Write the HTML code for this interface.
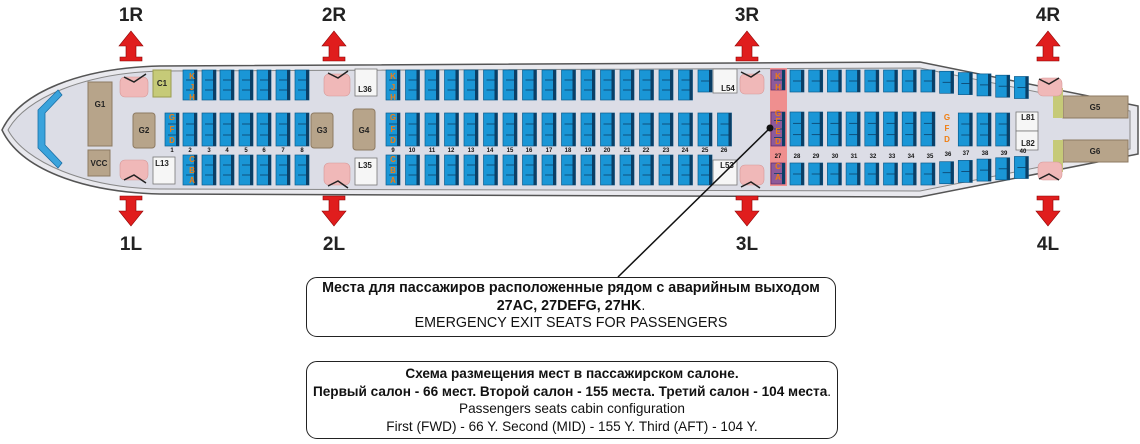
<!DOCTYPE html>
<html><head><meta charset="utf-8"><style>
html,body{margin:0;padding:0;background:#fff;}
svg{display:block}
text{font-family:"Liberation Sans",sans-serif;}
.lbl{font-size:19px;font-weight:bold;fill:#222;text-anchor:middle}
.num{font-size:6px;font-weight:bold;fill:#111;text-anchor:middle}
.g{font-size:8px;font-weight:bold;fill:#222;text-anchor:middle}
.let{font-size:8px;font-weight:bold;fill:#f07d10;text-anchor:middle}
.bx{font-family:"Liberation Sans",sans-serif;color:#111;text-align:center;position:absolute;border:1.5px solid #222;border-radius:11px;box-sizing:border-box;line-height:17.5px;white-space:nowrap}
</style></head><body>
<div style="position:relative;width:1140px;height:444px;overflow:hidden">
<svg id="s" width="1140" height="444" viewBox="0 0 1140 444" xmlns="http://www.w3.org/2000/svg">
<defs>
<g id="arU"><path d="M0,0 L12,15 L5,15 L5,26 L11,26 L11,30 L-11,30 L-11,26 L-5,26 L-5,15 L-12,15 Z" fill="#e01d1d" stroke="#8a0000" stroke-width="0.6"/></g>
</defs>
<path d="M2,130 C20,92 80,68 160,66 L920,62 L1138,106 L1138,154 L920,197 L160,194 C80,192 20,168 2,130 Z" fill="#e9e9ee" stroke="#555" stroke-width="1.5"/>
<path d="M8,130 C25,98 85,73 160,71 L920,68 L1130,111 L1130,149 L920,191 L160,189 C85,188 25,162 8,130 Z" fill="#dcdde6" stroke="#888" stroke-width="1"/>
<path d="M58,90 L38,110 L38,148 L58,168 L62,163 L45,145 L45,113 L62,95 Z" fill="#3aa3dc" stroke="#1a6fa6" stroke-width="0.8"/>
<rect x="88" y="82" width="24" height="64" fill="#b7a48a" stroke="#8d7a62"/><text class="g" x="100" y="107">G1</text>
<rect x="88" y="150" width="22" height="26" fill="#b7a48a" stroke="#8d7a62"/><text class="g" x="99" y="166">VCC</text>
<rect x="133" y="113" width="22" height="35" rx="3" fill="#b7a48a" stroke="#8d7a62"/><text class="g" x="144" y="133">G2</text>
<rect x="311" y="113" width="22" height="35" rx="3" fill="#b7a48a" stroke="#8d7a62"/><text class="g" x="322" y="133">G3</text>
<rect x="353" y="109" width="22" height="41" rx="3" fill="#b7a48a" stroke="#8d7a62"/><text class="g" x="364" y="133">G4</text>
<rect x="153" y="70" width="18" height="27" fill="#c6ca78" stroke="#9a9c50"/><text class="g" x="162" y="86">C1</text>
<rect x="1063" y="96" width="65" height="22" fill="#b7a48a" stroke="#8d7a62"/><text class="g" x="1095" y="110">G5</text>
<rect x="1063" y="140" width="65" height="22" fill="#b7a48a" stroke="#8d7a62"/><text class="g" x="1095" y="154">G6</text>
<rect x="1053" y="88" width="10" height="30" fill="#c6ca78"/><rect x="1053" y="140" width="10" height="32" fill="#c6ca78"/>
<g fill="#f6f6f6" stroke="#777" stroke-width="0.8">
<rect x="153" y="157" width="22" height="27"/><rect x="355" y="69" width="22" height="27"/><rect x="355" y="158" width="22" height="27"/>
<rect x="713" y="69" width="24" height="24"/><rect x="713" y="160" width="24" height="25"/>
<rect x="1016" y="112" width="22" height="19"/><rect x="1016" y="131" width="22" height="19"/>
</g>
<text class="g" x="162" y="166">L13</text><text class="g" x="365" y="92">L36</text><text class="g" x="365" y="168">L35</text>
<text class="g" x="728" y="91">L54</text><text class="g" x="727" y="168">L53</text><text class="g" x="1028" y="120">L81</text><text class="g" x="1028" y="146">L82</text>
<g fill="#f0b8b8" stroke="#d69898" stroke-width="0.6">
<rect x="120" y="77" width="28" height="20" rx="5"/><rect x="120" y="160" width="28" height="20" rx="5"/>
<rect x="324" y="74" width="26" height="22" rx="5"/><rect x="324" y="163" width="26" height="22" rx="5"/>
<rect x="740" y="74" width="24" height="20" rx="5"/><rect x="740" y="165" width="24" height="20" rx="5"/>
<rect x="1038" y="78" width="24" height="18" rx="5"/><rect x="1038" y="162" width="24" height="18" rx="5"/>
</g>
<g stroke="#222" stroke-width="1.5" fill="none">
<path d="M124,77 L134,82 L146,74"/><path d="M124,180 L134,175 L146,183"/>
<path d="M328,73 L338,78 L348,71"/><path d="M328,186 L338,181 L348,188"/>
<path d="M741,72 L751,77 L760,71"/><path d="M741,187 L751,182 L760,188"/>
<path d="M1039,79 L1049,84 L1059,78"/><path d="M1039,179 L1049,174 L1059,180"/>
</g>
<rect x="770" y="68" width="17" height="118" fill="#ef8f8f"/>
<g id="seats"></g>
<g class="num">
<text x="172" y="152">1</text><text x="190" y="152">2</text><text x="209" y="152">3</text><text x="227" y="152">4</text><text x="246" y="152">5</text><text x="264" y="152">6</text><text x="283" y="152">7</text><text x="302" y="152">8</text>
<text x="393" y="152">9</text><text x="412" y="152">10</text><text x="432" y="152">11</text><text x="451" y="152">12</text><text x="471" y="152">13</text><text x="490" y="152">14</text><text x="510" y="152">15</text><text x="529" y="152">16</text><text x="549" y="152">17</text><text x="568" y="152">18</text><text x="588" y="152">19</text><text x="607" y="152">20</text><text x="627" y="152">21</text><text x="646" y="152">22</text><text x="666" y="152">23</text><text x="685" y="152">24</text><text x="705" y="152">25</text><text x="724" y="152">26</text>
<text x="778" y="158">27</text><text x="797" y="158">28</text><text x="816" y="158">29</text><text x="835" y="158">30</text><text x="854" y="158">31</text><text x="873" y="158">32</text><text x="892" y="158">33</text><text x="911" y="158">34</text><text x="930" y="158">35</text><text x="948" y="156">36</text><text x="966" y="155">37</text><text x="985" y="155">38</text><text x="1004" y="155">39</text><text x="1023" y="153">40</text>
</g>
<g class="let">
<text x="192" y="79">K</text><text x="192" y="90">J</text><text x="192" y="100">H</text>
<text x="172" y="120">G</text><text x="172" y="132">F</text><text x="172" y="143">D</text>
<text x="192" y="162">C</text><text x="192" y="173">B</text><text x="192" y="183">A</text>
<text x="393" y="79">K</text><text x="393" y="90">J</text><text x="393" y="100">H</text>
<text x="393" y="120">G</text><text x="393" y="132">F</text><text x="393" y="143">D</text>
<text x="393" y="162">C</text><text x="393" y="173">B</text><text x="393" y="183">A</text>
<text x="778" y="79">K</text><text x="778" y="90">H</text>
<text x="778" y="116">G</text><text x="778" y="124">F</text><text x="778" y="134">E</text><text x="778" y="144">D</text>
<text x="778" y="169">C</text><text x="778" y="180">A</text>
<text x="947" y="120">G</text><text x="947" y="131">F</text><text x="947" y="142">D</text>
</g>
<use href="#arU" x="131" y="31"/><use href="#arU" x="334" y="31"/><use href="#arU" x="747" y="31"/><use href="#arU" x="1048" y="31"/>
<use href="#arU" transform="translate(131,226) scale(1,-1)"/><use href="#arU" transform="translate(334,226) scale(1,-1)"/><use href="#arU" transform="translate(747,226) scale(1,-1)"/><use href="#arU" transform="translate(1048,226) scale(1,-1)"/>
<text class="lbl" x="131" y="21">1R</text><text class="lbl" x="334" y="21">2R</text><text class="lbl" x="747" y="21">3R</text><text class="lbl" x="1048" y="21">4R</text>
<text class="lbl" x="131" y="250">1L</text><text class="lbl" x="334" y="250">2L</text><text class="lbl" x="747" y="250">3L</text><text class="lbl" x="1048" y="250">4L</text>
<line x1="770" y1="128" x2="618" y2="277" stroke="#111" stroke-width="1.5"/><circle cx="770" cy="128" r="3.5" fill="#111"/>
</svg>
<div class="bx" style="left:306px;top:277px;width:530px;height:60px;padding-top:2px;font-size:14.3px"><b>Места для пассажиров расположенные рядом с аварийным выходом<br>27AC, 27DEFG, 27HK</b>.<br>EMERGENCY EXIT SEATS FOR PASSENGERS</div>
<div class="bx" style="left:306px;top:361px;width:532px;height:78px;padding-top:3px;font-size:13.6px"><b>Схема размещения мест в пассажирском салоне.<br>Первый салон - 66 мест. Второй салон - 155 места. Третий салон - 104 места</b>.<br>Passengers seats cabin configuration<br>First (FWD) - 66 Y. Second (MID) - 155 Y. Third (AFT) - 104 Y.</div>
</div>
<script>
var NS="http://www.w3.org/2000/svg",G=document.getElementById("seats");
function blk(cx,y,n,h,em){var w=14,x=cx-7,sh=h/n;
 var r=document.createElementNS(NS,"rect");r.setAttribute("x",x);r.setAttribute("y",y);r.setAttribute("width",w);r.setAttribute("height",h);
 r.setAttribute("fill",em?"#8e5a9a":"#1a96d6");r.setAttribute("stroke",em?"#5a2a6a":"#0d5c8e");r.setAttribute("stroke-width","0.7");G.appendChild(r);
 var b=document.createElementNS(NS,"rect");b.setAttribute("x",x+w-3);b.setAttribute("y",y);b.setAttribute("width",3);b.setAttribute("height",h);b.setAttribute("fill","#0b3f66");G.appendChild(b);
 for(var i=1;i<n;i++){var l=document.createElementNS(NS,"line");l.setAttribute("x1",x+3);l.setAttribute("x2",x+w);l.setAttribute("y1",y+sh*i);l.setAttribute("y2",y+sh*i);l.setAttribute("stroke","#0b3f66");l.setAttribute("stroke-width","0.8");G.appendChild(l);}}
var s1=[172,190,209,227,246,264,283,302];
s1.forEach(function(c,i){blk(c,113,3,33);if(i>0){blk(c,70,3,30);blk(c,155,3,30);}});
for(var i=0;i<18;i++){var c=393+19.5*i;blk(c,113,3,33);if(i<16){blk(c,70,3,30);blk(c,155,3,30);}else if(i==16){blk(c,70,2,22);blk(c,155,3,30);}}
blk(778,70,2,20,1);blk(778,112,4,34,1);blk(778,163,2,21,1);
for(var i=0;i<13;i++){var c=797+18.7*i,o=i>7?(i-7)*1.3:0;blk(c,70+o,2,22);blk(c,163-o,2,22);if(i<8)blk(c,112,3,34);else if(i>8&&i<12)blk(c,113,3,33);}
</script>
</body></html>
